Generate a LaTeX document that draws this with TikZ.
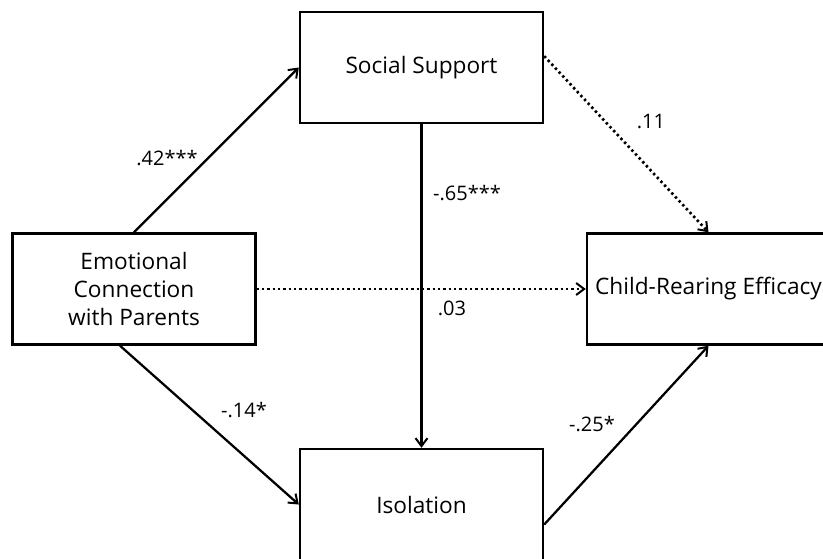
\documentclass[tikz,border=0pt]{standalone}
\usepackage{fontspec}
\setmainfont{Open Sans}
\usetikzlibrary{arrows.meta,calc}

\tikzset{
  var/.style={draw, line width=1.8pt, minimum width=243*0.75pt, minimum height=111*0.75pt,
    align=center, inner sep=0pt, font=\fontsize{17}{21}\selectfont},
  path/.style={line width=1.7pt, -{Straight Barb[length=6pt,width=9pt,line width=1.5pt]}},
  ns/.style={path, line width=2pt, dash pattern=on 1.8pt off 2.2pt},
  coef/.style={font=\fontsize{15}{18}\selectfont}
}

\begin{document}
\begin{tikzpicture}[x=0.75pt,y=-0.75pt]
  \useasboundingbox (0,0) rectangle (823,558);
  \clip (0,0) rectangle (823,558);

  % variables
  \node[var] (emo) at (134,289) {Emotional\\Connection\\with Parents};
  \node[var] (soc) at (421.5,67.5) {Social Support};
  \node[var] (iso) at (421.5,504.5) {Isolation};
  \node[var] (cre) at (708.5,289) {Child-Rearing Efficacy};

  % paths
  \draw[path] (emo.north) -- (soc.west);
  \draw[path] (emo.south) ++(-14,0) coordinate (emos) -- (iso.west);
  \draw[path] (soc.south) -- (iso.north);
  \draw[ns] (emo.east) -- (cre.west);
  \draw[ns] ($(soc.north east)!0.4!(soc.south east)$) -- (cre.north);
  \draw[path] ($(iso.east)+(0,20)$) -- (cre.south);

  % coefficients
  \node[coef] (c1) at (167,158) {.42***};
  \node[coef] (c2) at (467,193) {-.65***};
  \node[coef] (c3) at (651,121) {.11};
  \node[coef] (c4) at (452,308) {.03};
  \node[coef] (c5) at (244,410) {-.14*};
  \node[coef] (c6) at (592,424) {-.25*};
\end{tikzpicture}
\end{document}
